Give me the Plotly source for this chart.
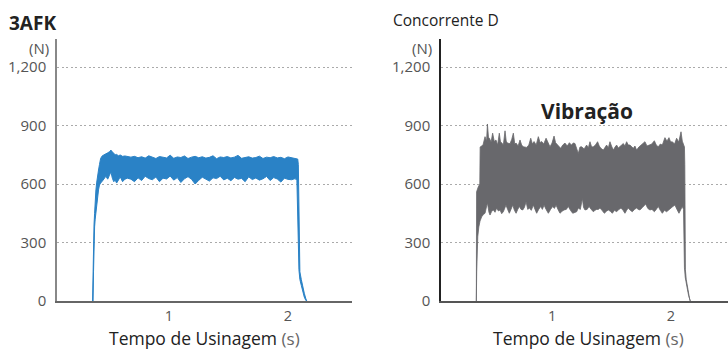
import plotly.graph_objects as go

# ---------------- data ----------------
y_ticks = [0, 300, 600, 900, 1200]
y_tick_labels = ["0", "300", "600", "900", "1,200"]
x_ticks = [1, 2]
x_tick_labels = ["1", "2"]

# 3AFK : cutting force band (upper / lower envelope), N vs s
afk_t = [0.358, 0.362, 0.366, 0.370, 0.375, 0.380, 0.386, 0.393, 0.400, 0.408,
         0.416, 0.426, 0.440, 0.455, 0.470, 0.485, 0.500, 0.512, 0.524, 0.536,
         0.548, 0.560, 0.575, 0.590, 0.610, 0.630, 0.650,
         0.68, 0.71, 0.74, 0.77, 0.80, 0.83, 0.86, 0.89, 0.92, 0.95,
         0.98, 1.01, 1.04, 1.07, 1.10, 1.13, 1.16, 1.19, 1.22, 1.25,
         1.28, 1.31, 1.34, 1.37, 1.40, 1.43, 1.46, 1.49, 1.52, 1.55,
         1.58, 1.61, 1.64, 1.67, 1.70, 1.73, 1.76, 1.79, 1.82, 1.85,
         1.88, 1.91, 1.94, 1.97, 2.00, 2.03, 2.06,
         2.075, 2.082, 2.087, 2.092, 2.100, 2.112, 2.124, 2.137, 2.150, 2.158]
afk_upper = [0, 230, 320, 390, 450, 520, 570, 610, 650, 672,
             700, 732, 745, 749, 752, 760, 766, 774, 765, 757,
             750, 752, 745, 749, 742, 744, 740,
             738, 742, 735, 740, 733, 745, 736, 731, 741, 737,
             734, 748, 732, 739, 736, 744, 731, 738, 742, 735,
             740, 733, 737, 745, 730, 739, 736, 741, 734, 738,
             747, 732, 737, 740, 733, 736, 743, 731, 738, 735,
             741, 734, 737, 730, 739, 736, 733,
             730, 728, 700, 540, 150, 110, 70, 40, 12, 0]
afk_lower = [0, 0, 150, 300, 380, 420, 450, 490, 535, 570,
             595, 605, 615, 630, 640, 625, 645, 663, 630, 612,
             620, 605, 620, 637, 612, 625, 630,
             625, 612, 632, 618, 640, 628, 622, 636, 612, 630,
             626, 641, 620, 633, 608, 627, 638, 624, 600, 619,
             635, 626, 615, 632, 628, 640, 621, 630, 617, 634,
             625, 629, 612, 637, 623, 631, 620, 627, 639, 618,
             633, 626, 610, 630, 624, 622, 628,
             618, 560, 300, 160, 110, 80, 45, 20, 3, 0]

# Concorrente D : upper envelope
cd_up_t = [0.364, 0.366, 0.380, 0.393, 0.396, 0.420, 0.437, 0.450, 0.457, 0.466,
           0.474, 0.488, 0.501, 0.515, 0.529, 0.543, 0.557, 0.567, 0.577, 0.591,
           0.605, 0.615, 0.625, 0.647, 0.662, 0.675, 0.687, 0.698, 0.715, 0.731,
           0.745, 0.759, 0.787, 0.805, 0.821, 0.835, 0.849, 0.867, 0.885, 0.900,
           0.913, 0.930, 0.950, 0.966, 0.983, 1.000, 1.017, 1.030, 1.045, 1.073,
           1.090, 1.109, 1.128, 1.146, 1.162, 1.179, 1.193, 1.213, 1.221, 1.235,
           1.249, 1.270, 1.291, 1.305, 1.319, 1.333, 1.347, 1.365, 1.383, 1.397,
           1.411, 1.431, 1.445, 1.459, 1.473, 1.487, 1.500, 1.515, 1.530, 1.543,
           1.557, 1.571, 1.585, 1.599, 1.613, 1.627, 1.641, 1.655, 1.669, 1.683,
           1.697, 1.711, 1.730, 1.748, 1.765, 1.781, 1.798, 1.815, 1.838, 1.860,
           1.876, 1.893, 1.910, 1.927, 1.949, 1.966, 1.983, 1.997, 2.011, 2.030,
           2.047, 2.065, 2.084, 2.095, 2.106, 2.113, 2.116, 2.118, 2.121, 2.128,
           2.138, 2.148, 2.156, 2.162]
cd_upper = [0, 560, 585, 600, 790, 800, 843, 820, 908, 840,
            835, 815, 861, 818, 826, 800, 861, 815, 812, 800,
            873, 820, 810, 807, 830, 861, 805, 810, 795, 826,
            800, 791, 788, 800, 835, 805, 818, 800, 843, 812,
            818, 805, 835, 815, 791, 810, 846, 812, 800, 783,
            800, 810, 795, 812, 800, 810, 808, 766, 757, 790,
            791, 780, 800, 785, 817, 790, 791, 800, 817, 795,
            783, 774, 790, 800, 785, 817, 795, 774, 790, 800,
            785, 791, 800, 808, 795, 817, 800, 800, 790, 783,
            795, 774, 790, 800, 805, 817, 795, 800, 805, 822,
            800, 791, 805, 800, 838, 820, 838, 815, 817, 805,
            835, 815, 868, 820, 800, 790, 700, 300, 160, 110,
            70, 35, 12, 0]

# Concorrente D : lower envelope
cd_lo_t = [0.364, 0.367, 0.370, 0.376, 0.385, 0.395, 0.409, 0.425, 0.437, 0.457,
           0.470, 0.479, 0.493, 0.507, 0.521, 0.535, 0.549, 0.563, 0.577, 0.591,
           0.613, 0.627, 0.641, 0.655, 0.670, 0.684, 0.698, 0.712, 0.726, 0.740,
           0.754, 0.768, 0.782, 0.796, 0.810, 0.826, 0.843, 0.857, 0.871, 0.888,
           0.905, 0.919, 0.933, 0.950, 0.969, 0.988, 1.006, 1.020, 1.034, 1.050,
           1.067, 1.084, 1.101, 1.120, 1.137, 1.155, 1.174, 1.190, 1.207, 1.221,
           1.238, 1.255, 1.265, 1.277, 1.295, 1.311, 1.330, 1.347, 1.361, 1.375,
           1.389, 1.403, 1.420, 1.440, 1.457, 1.473, 1.490, 1.507, 1.525, 1.543,
           1.562, 1.580, 1.597, 1.613, 1.627, 1.641, 1.658, 1.675, 1.693, 1.711,
           1.725, 1.739, 1.760, 1.787, 1.805, 1.823, 1.840, 1.860, 1.876, 1.893,
           1.910, 1.927, 1.945, 1.963, 1.980, 1.999, 2.016, 2.033, 2.050, 2.067,
           2.080, 2.095, 2.105, 2.110, 2.113, 2.120, 2.128, 2.138, 2.148, 2.156,
           2.162]
cd_lower = [0, 150, 250, 330, 380, 410, 432, 445, 450, 504,
            455, 441, 460, 467, 455, 477, 462, 467, 448, 458,
            492, 470, 450, 470, 492, 465, 450, 470, 485, 470,
            467, 480, 509, 470, 477, 465, 492, 470, 450, 470,
            485, 470, 492, 470, 450, 470, 485, 475, 492, 470,
            450, 460, 467, 470, 485, 465, 450, 455, 458, 477,
            470, 526, 480, 467, 470, 485, 470, 458, 465, 470,
            470, 477, 465, 450, 460, 467, 460, 450, 465, 458,
            470, 477, 465, 450, 465, 477, 465, 458, 470, 477,
            470, 467, 480, 497, 475, 467, 470, 458, 470, 485,
            465, 450, 465, 458, 470, 477, 485, 492, 470, 450,
            470, 485, 470, 300, 170, 120, 95, 60, 28, 8,
            0]

# ---------------- styling ----------------
FONT = "Open Sans"
BLUE = "#2a82c6"
GRAY = "#68686c"
W, H = 728, 349
ML, MR, MT, MB = 0, 0, 39, 48
PH = H - MT - MB


def px_x(p):
    return p / W


def px_y(p):
    return (H - MB - p) / PH


fig = go.Figure()

fig.add_trace(go.Scatter(
    x=afk_t + afk_t[::-1], y=afk_upper + afk_lower[::-1],
    fill="toself", fillcolor=BLUE, mode="lines",
    line=dict(color=BLUE, width=1), xaxis="x", yaxis="y",
    hoverinfo="skip", showlegend=False))

fig.add_trace(go.Scatter(
    x=cd_up_t + cd_lo_t[::-1], y=cd_upper + cd_lower[::-1],
    fill="toself", fillcolor=GRAY, mode="lines",
    line=dict(color=GRAY, width=0.8), xaxis="x2", yaxis="y2",
    hoverinfo="skip", showlegend=False))

tickfont = dict(family=FONT, size=15, color="#555555")
yax = dict(range=[0, 1344], tickvals=y_ticks, ticktext=y_tick_labels,
           showgrid=True, gridcolor="#aaaaaa", gridwidth=1.3, griddash="2px,2.5px",
           zeroline=False, showline=True, linewidth=1.5, ticks="",
           tickfont=tickfont, ticklabelstandoff=6, fixedrange=True, automargin=False)
xax = dict(tickvals=x_ticks, ticktext=x_tick_labels, showgrid=False,
           zeroline=False, showline=True, linewidth=1.5, ticks="",
           tickfont=dict(tickfont, size=14.5), ticklabelstandoff=1,
           fixedrange=True, automargin=False)

fig.update_layout(
    width=W, height=H,
    margin=dict(l=ML, r=MR, t=MT, b=MB, pad=0, autoexpand=False),
    paper_bgcolor="white", plot_bgcolor="white",
    font=dict(family=FONT),
    xaxis=dict(xax, domain=[px_x(57), px_x(352)], range=[0.059, 2.538],
               linecolor="#666666", anchor="y"),
    yaxis=dict(yax, domain=[0, 1], linecolor="#888888", anchor="x"),
    xaxis2=dict(xax, domain=[px_x(441), 1.0], range=[0.067, 2.479],
                linecolor="#555555", anchor="y2"),
    yaxis2=dict(yax, domain=[0, 1], linecolor="#222222", anchor="x2"),
)

ann = []
ann.append(dict(text="<b>3AFK</b>", x=px_x(7), y=px_y(23), xanchor="left", yanchor="middle",
                font=dict(family=FONT, size=19, color="#222222")))
ann.append(dict(text="Concorrente D", x=px_x(391), y=px_y(20), xanchor="left", yanchor="middle",
                font=dict(family=FONT, size=15.5, color="#222222")))
for xr in (51, 434):
    ann.append(dict(text="(N)", x=px_x(xr), y=px_y(48), xanchor="right", yanchor="middle",
                    font=dict(family=FONT, size=15, color="#555555")))
for xc in (204.5, 588):
    ann.append(dict(text="Tempo de Usinagem <span style='font-size:17px;color:#666666'>(s)</span>",
                    x=px_x(xc), y=px_y(338), xanchor="center", yanchor="middle",
                    font=dict(family=FONT, size=17.5, color="#222222")))
ann.append(dict(text="<b>Vibração</b>", x=px_x(587), y=px_y(111), xanchor="center", yanchor="middle",
                font=dict(family=FONT, size=21, color="#222222")))
for a in ann:
    a.update(xref="paper", yref="paper", showarrow=False)
fig.update_layout(annotations=ann)

fig.write_html("out.html", config={"displayModeBar": False},
               post_script="document.body.style.margin='0';document.body.style.padding='0';")
